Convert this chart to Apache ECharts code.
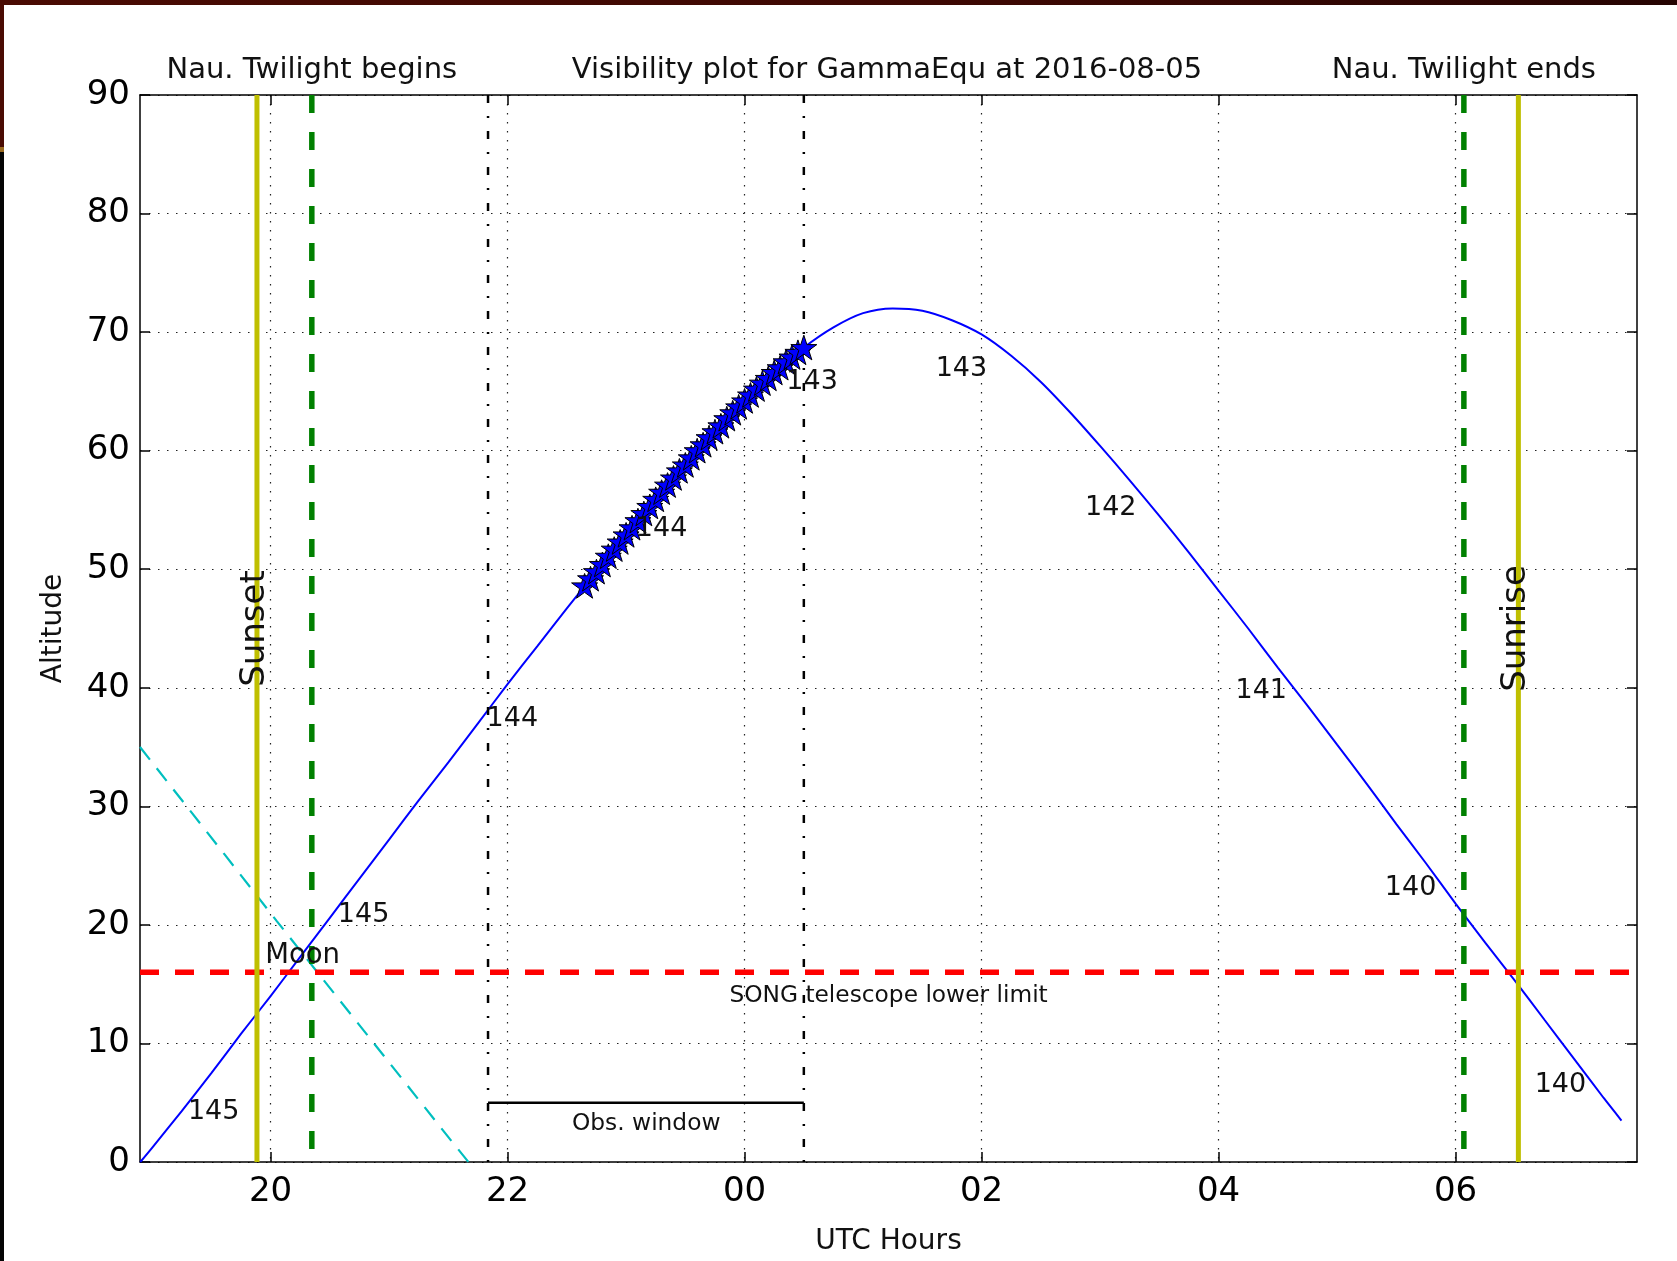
<!DOCTYPE html>
<html>
<head>
<meta charset="utf-8">
<script src="https://cdn.jsdelivr.net/npm/echarts@6/dist/echarts.min.js"></script>
<style>
html,body{margin:0;padding:0;background:#fff;width:1677px;height:1261px;overflow:hidden}
#chart{position:absolute;left:0;top:0;width:1677px;height:1261px}
.bt{position:absolute;left:0;top:0;width:1677px;height:5px;background:linear-gradient(90deg,#4a0b03,#3c0803 60%,#260402)}
.bl1{position:absolute;left:0;top:0;width:4px;height:147px;background:#4a0b03}
.bl2{position:absolute;left:0;top:147px;width:4px;height:5px;background:#9a6a20}
.bl3{position:absolute;left:0;top:152px;width:4px;height:1109px;background:#050505}
</style>
</head>
<body>
<div id="chart"></div>
<div class="bt"></div><div class="bl1"></div><div class="bl2"></div><div class="bl3"></div>
<script>
// ---------------- data ----------------
const xMin = 18.898, xMax = 31.531;           // UTC hours (24 = 00 next day)
const xTickValues = [20, 22, 24, 26, 28, 30];
const yMin = 0, yMax = 90, yInterval = 10;

const curveHours = [18.90,19.00,19.25,19.50,19.75,20.00,20.25,20.50,20.75,21.00,21.25,21.50,21.75,22.00,22.25,22.50,22.75,23.00,23.25,23.50,23.75,24.00,24.25,24.50,24.75,25.00,25.25,25.50,25.75,26.00,26.25,26.50,26.75,27.00,27.25,27.50,27.75,28.00,28.25,28.50,28.75,29.00,29.25,29.50,29.75,30.00,30.25,30.50,30.75,31.00,31.25,31.40];
const curveAlt   = [0.0,1.2,4.3,7.5,10.8,14.0,17.3,20.6,23.9,27.2,30.5,33.7,37.0,40.3,43.5,46.7,49.8,52.9,55.9,58.8,61.6,64.2,66.6,68.7,70.4,71.6,72.0,71.8,71.0,69.8,68.0,65.8,63.2,60.4,57.5,54.5,51.4,48.2,45.0,41.7,38.5,35.2,31.9,28.5,25.2,21.8,18.5,15.3,12.0,8.7,5.4,3.5];

const starHours = [22.65,22.70,22.75,22.80,22.85,22.90,22.95,23.00,23.05,23.10,23.15,23.20,23.25,23.30,23.35,23.40,23.45,23.50,23.55,23.60,23.65,23.70,23.75,23.80,23.85,23.90,23.95,24.00,24.05,24.10,24.15,24.20,24.25,24.30,24.35,24.40,24.45,24.50];
const starAlt   = [48.6,49.2,49.8,50.4,51.1,51.7,52.3,52.9,53.5,54.1,54.7,55.3,55.9,56.5,57.1,57.7,58.3,58.8,59.4,60.0,60.5,61.1,61.6,62.1,62.7,63.2,63.7,64.2,64.7,65.2,65.7,66.1,66.6,67.0,67.5,67.9,68.3,68.7];

const moonHours = [18.898, 19.615, 20.054, 21.54, 21.67];
const moonAlt   = [35.0, 25.9, 20.3, 1.6, 0.0];

const sunsetH = 19.885, twilightBeginH = 20.348, obsStartH = 21.835, obsEndH = 24.50, twilightEndH = 30.07, sunriseH = 30.53;
const songLimitAlt = 16, obsWindowAlt = 5;

const sepLabels     = ['145','145','144','144','143','143','142','141','140','140'];
const sepLabelHours = [19.52, 20.785, 22.04, 23.30, 24.57, 25.83, 27.09, 28.36, 29.62, 30.885];
const sepLabelAlt   = [4.2, 20.8, 37.4, 53.4, 65.8, 66.9, 55.2, 39.7, 23.1, 6.5];

const titleText = 'Visibility plot for GammaEqu at 2016-08-05';
const topTexts = [['Nau. Twilight begins', twilightBeginH, 92.1], ['Nau. Twilight ends', twilightEndH, 92.1]];
const plotTexts = [['Moon', 20.27, 17.4, 27.5], ['SONG telescope lower limit', 25.215, 14.0, 23.3], ['Obs. window', 23.17, 3.2, 23.3]];
const rotTexts = [['Sunset', 19.870, 45], ['Sunrise', 30.512, 45]];

// ---------------- chart ----------------
const FONT = 'DejaVu Sans';
const TXT = '#111';
const zip = (a, b) => a.map((v, i) => [v, b[i]]);
const dotted = { color: '#222', width: 1.2, type: [1.5, 7.5] };
const star = 'path://M50,0L61.23,34.55L97.55,34.55L68.17,55.9L79.39,90.45L50,69.1L20.61,90.45L31.83,55.9L2.45,34.55L38.77,34.55Z';
const hourFmt = v => String(Math.round(v) % 24).padStart(2, '0');

function vline(x, color, width, type, z) {
  return { type: 'line', data: [[x, yMax], [x, yMin]], showSymbol: false, silent: true, z: z,
           lineStyle: { color: color, width: width, type: type, cap: 'butt' } };
}
function hline(x0, x1, y, color, width, type, z) {
  return { type: 'line', data: [[x0, y], [x1, y]], showSymbol: false, silent: true, z: z,
           lineStyle: { color: color, width: width, type: type, cap: 'butt' } };
}
function textSeries(items, size, rotate) {
  return { type: 'scatter', clip: false, silent: true, z: 20, symbol: 'circle', symbolSize: 1,
           itemStyle: { color: 'rgba(0,0,0,0)', opacity: 1 },
           data: items.map(t => ({ name: t[0], value: [t[1], t[2]],
                 label: { fontSize: t[3] || size } })),
           label: { show: true, position: 'inside', formatter: p => p.name, rotate: rotate || 0,
                    color: TXT, fontFamily: FONT, fontSize: size, align: 'center', verticalAlign: 'middle' } };
}

const chart = echarts.init(document.getElementById('chart'), null, { renderer: 'canvas' });
const axisLineStyle = { color: '#000', width: 1.5 };
chart.setOption({
  animation: false,
  backgroundColor: 'transparent',
  title: { text: titleText, left: 882, top: 51, textAlign: 'center',
           textStyle: { fontFamily: FONT, fontSize: 29, fontWeight: 'normal', color: TXT } },
  grid: { left: 140, top: 95, width: 1497, height: 1071, containLabel: false },
  xAxis: [{
    type: 'value', min: xMin, max: xMax, position: 'bottom',
    axisLine: { show: true, onZero: false, lineStyle: axisLineStyle },
    axisTick: { show: true, inside: true, length: 10, customValues: xTickValues, lineStyle: axisLineStyle },
    axisLabel: { show: true, customValues: xTickValues, formatter: hourFmt, fontFamily: FONT, fontSize: 34, color: '#000', margin: 13 },
    splitLine: { show: true, lineStyle: dotted },
    name: 'UTC Hours', nameLocation: 'middle', nameGap: 66,
    nameTextStyle: { fontFamily: FONT, fontSize: 28, color: TXT }
  }, {
    type: 'value', min: xMin, max: xMax, position: 'top',
    axisLine: { show: true, onZero: false, lineStyle: axisLineStyle },
    axisTick: { show: true, inside: true, length: 10, customValues: xTickValues, lineStyle: axisLineStyle },
    axisLabel: { show: false }, splitLine: { show: false }
  }],
  yAxis: [{
    type: 'value', min: yMin, max: yMax, interval: yInterval, position: 'left',
    axisLine: { show: true, onZero: false, lineStyle: axisLineStyle },
    axisTick: { show: true, inside: true, length: 10, lineStyle: axisLineStyle },
    axisLabel: { show: true, fontFamily: FONT, fontSize: 34, color: '#000', margin: 10 },
    splitLine: { show: true, lineStyle: dotted },
    name: 'Altitude', nameLocation: 'middle', nameGap: 72,
    nameTextStyle: { fontFamily: FONT, fontSize: 28, color: TXT }
  }, {
    type: 'value', min: yMin, max: yMax, interval: yInterval, position: 'right',
    axisLine: { show: true, onZero: false, lineStyle: axisLineStyle },
    axisTick: { show: true, inside: true, length: 10, lineStyle: axisLineStyle },
    axisLabel: { show: false }, splitLine: { show: false }
  }],
  series: [
    { type: 'line', data: zip(curveHours, curveAlt), showSymbol: false, smooth: 0.3, silent: true, z: 3,
      lineStyle: { color: '#0000ff', width: 2 } },
    { type: 'line', data: zip(moonHours, moonAlt), showSymbol: false, silent: true, z: 4,
      lineStyle: { color: '#00bfbf', width: 2.2, type: [16, 11], cap: 'butt' } },
    hline(xMin, xMax, songLimitAlt, '#ff0000', 5.5, [19, 16], 5),
    vline(obsStartH, '#000', 2.5, [8, 13, 2, 13], 6),
    vline(obsEndH, '#000', 2.5, [8, 13, 2, 13], 6),
    hline(obsStartH, obsEndH, obsWindowAlt, '#000', 2.5, 'solid', 6),
    vline(twilightBeginH, '#008000', 5.5, [18, 19], 7),
    vline(twilightEndH, '#008000', 5.5, [18, 19], 7),
    vline(sunsetH, '#bfbf00', 5, 'solid', 8),
    vline(sunriseH, '#bfbf00', 5, 'solid', 8),
    { type: 'scatter', data: zip(starHours, starAlt), symbol: star, symbolSize: 26, symbolKeepAspect: true,
      silent: true, z: 9, itemStyle: { color: '#0000ff', borderColor: '#000', borderWidth: 1, opacity: 1 } },
    textSeries(sepLabels.map((s, i) => [s, sepLabelHours[i], sepLabelAlt[i]]), 27),
    textSeries(plotTexts, 23.3),
    textSeries(topTexts, 29),
    textSeries(rotTexts.map(t => [t[0], t[1], t[2]]), 34, 90)
  ]
});
</script>
</body>
</html>
